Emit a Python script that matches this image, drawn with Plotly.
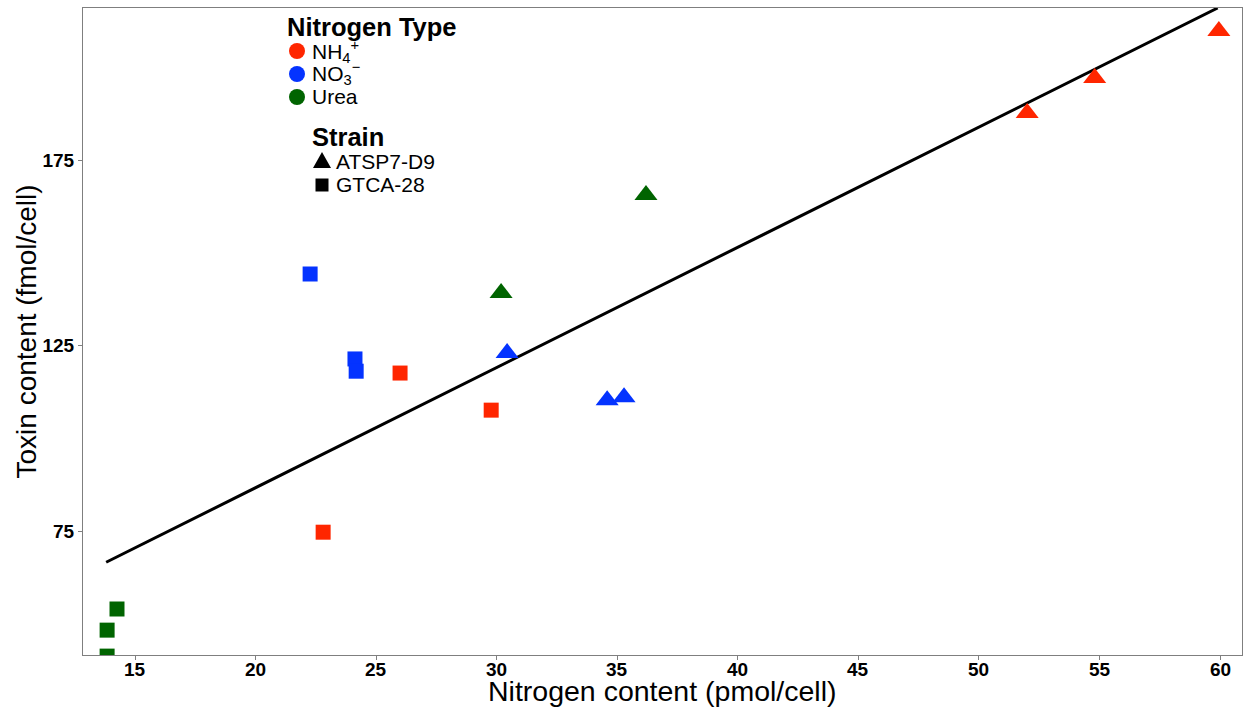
import plotly.graph_objects as go

# Data
nh4_tri_x = [52.0, 54.8, 59.95]
nh4_tri_y = [187.7, 197.1, 209.8]
nh4_sq_x = [25.99, 29.77, 22.80]
nh4_sq_y = [117.6, 107.6, 74.7]

no3_tri_x = [30.43, 34.58, 35.28]
no3_tri_y = [123.0, 110.3, 111.1]
no3_sq_x = [22.26, 24.12, 24.17]
no3_sq_y = [144.3, 121.4, 118.1]

urea_tri_x = [36.19, 30.18]
urea_tri_y = [165.6, 139.2]
urea_sq_x = [14.25, 13.84, 13.84]
urea_sq_y = [54.0, 48.3, 41.3]

fit_x = [13.8, 59.9]
fit_y = [66.6, 216.0]

x_ticks = [15, 20, 25, 30, 35, 40, 45, 50, 55, 60]
y_ticks = [75, 125, 175]

nitrogen_labels = ["NH<sub>4</sub><sup>+</sup>", "NO<sub>3</sub><sup>−</sup>", "Urea"]
strain_labels = ["ATSP7-D9", "GTCA-28"]

RED = "#FF2600"
BLUE = "#0433FF"
GREEN = "#006400"
nitrogen_colors = [RED, BLUE, GREEN]

FONT = "Liberation Sans, Arial, sans-serif"

W, H = 1247, 715
ML, MR, MT, MB = 83, 5, 8, 60
PW, PH = W - ML - MR, H - MT - MB


def px(xpix):
    return (xpix - ML) / PW


def py(ypix):
    return (H - MB - ypix) / PH


fig = go.Figure()

fig.add_trace(go.Scatter(x=fit_x, y=fit_y, mode="lines",
                         line=dict(color="black", width=3),
                         showlegend=False, hoverinfo="skip"))

groups = [
    (nh4_tri_x, nh4_tri_y, nh4_sq_x, nh4_sq_y, RED),
    (no3_tri_x, no3_tri_y, no3_sq_x, no3_sq_y, BLUE),
    (urea_tri_x, urea_tri_y, urea_sq_x, urea_sq_y, GREEN),
]
for tx, ty, sx, sy, col in groups:
    fig.add_trace(go.Scatter(x=tx, y=ty, mode="markers",
                             marker=dict(symbol="triangle-up", size=20, color=col,
                                         line=dict(width=0)),
                             showlegend=False))
    fig.add_trace(go.Scatter(x=sx, y=sy, mode="markers",
                             marker=dict(symbol="square", size=15, color=col,
                                         line=dict(width=0)),
                             showlegend=False))

# ---- manual legend (ggplot style) ----
shapes = []
annotations = []

annotations.append(dict(text="<b>Nitrogen Type</b>", x=px(285), y=py(27),
                        xref="paper", yref="paper", xanchor="left", yanchor="middle",
                        showarrow=False, font=dict(size=25.5, family=FONT, color="black")))
row_y = [51, 74, 97]
for lab, col, ry in zip(nitrogen_labels, nitrogen_colors, row_y):
    shapes.append(dict(type="circle", xref="paper", yref="paper",
                       xsizemode="pixel", ysizemode="pixel",
                       xanchor=px(297), yanchor=py(ry),
                       x0=-8, x1=8, y0=-8, y1=8,
                       fillcolor=col, line=dict(width=0)))
    annotations.append(dict(text=lab, x=px(310), y=py(ry),
                            xref="paper", yref="paper", xanchor="left", yanchor="middle",
                            showarrow=False, font=dict(size=21, family=FONT, color="black")))

annotations.append(dict(text="<b>Strain</b>", x=px(310), y=py(137),
                        xref="paper", yref="paper", xanchor="left", yanchor="middle",
                        showarrow=False, font=dict(size=25.5, family=FONT, color="black")))
# triangle
shapes.append(dict(type="path", xref="paper", yref="paper",
                   xsizemode="pixel", ysizemode="pixel",
                   xanchor=px(322), yanchor=py(161),
                   path="M-9,-7 L9,-7 L0,9 Z",
                   fillcolor="black", line=dict(width=0)))
# square
shapes.append(dict(type="rect", xref="paper", yref="paper",
                   xsizemode="pixel", ysizemode="pixel",
                   xanchor=px(322), yanchor=py(185),
                   x0=-6.5, x1=6.5, y0=-6.5, y1=6.5,
                   fillcolor="black", line=dict(width=0)))
for lab, ry in zip(strain_labels, [161, 185]):
    annotations.append(dict(text=lab, x=px(334), y=py(ry),
                            xref="paper", yref="paper", xanchor="left", yanchor="middle",
                            showarrow=False, font=dict(size=21, family=FONT, color="black")))

# x tick labels (placed through the x scale, closer to the axis as in ggplot)
for t in x_ticks:
    annotations.append(dict(text=f"<b>{t}</b>", x=t, y=py(669),
                            xref="x", yref="paper", xanchor="center", yanchor="middle",
                            showarrow=False, borderpad=0,
                            font=dict(size=19, family=FONT, color="black")))

# axis titles
annotations.append(dict(text="Nitrogen content (pmol/cell)", x=0.5, y=py(691),
                        xref="paper", yref="paper", xanchor="center", yanchor="middle",
                        showarrow=False, borderpad=0,
                        font=dict(size=28.5, family=FONT, color="black")))
annotations.append(dict(text="Toxin content (fmol/cell)", x=px(26), y=0.5,
                        xref="paper", yref="paper", xanchor="center", yanchor="middle",
                        textangle=-90,
                        showarrow=False, font=dict(size=28, family=FONT, color="black")))

axis_common = dict(showgrid=False, zeroline=False, showline=True, mirror=True,
                   linecolor="#7F7F7F", linewidth=1, ticks="outside",
                   tickcolor="#7F7F7F", ticklen=4,
                   tickfont=dict(family=FONT, size=19, color="black", weight="bold"))

fig.update_layout(
    width=W, height=H,
    margin=dict(l=ML, r=MR, t=MT, b=MB, autoexpand=False),
    paper_bgcolor="white", plot_bgcolor="white",
    font=dict(family=FONT, color="black"),
    showlegend=False,
    xaxis=dict(range=[12.84, 60.91], tickvals=x_ticks, showticklabels=False,
               **axis_common),
    yaxis=dict(range=[41.6, 216.0], tickvals=y_ticks, **axis_common),
    shapes=shapes,
    annotations=annotations,
)

fig.write_html("out.html")
